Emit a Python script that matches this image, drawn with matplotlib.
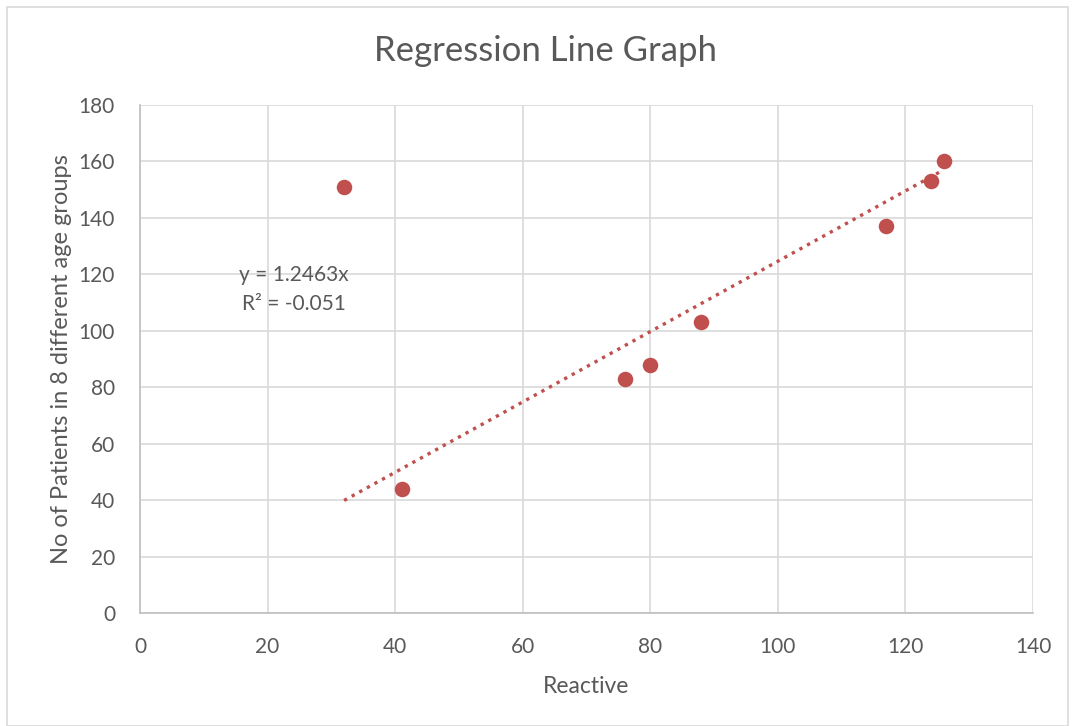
import numpy as np
import matplotlib.pyplot as plt
from matplotlib.patches import Rectangle

# dados
reativo = [32, 41, 76, 80, 88, 117, 124, 126]
pacientes = [151, 44, 83, 88, 103, 137, 153, 160]
inclinacao = 1.2463
x_ticks = [0, 20, 40, 60, 80, 100, 120, 140]
y_ticks = [0, 20, 40, 60, 80, 100, 120, 140, 160, 180]

cor = '#C0504D'
cinza_txt = '#595959'
plt.rcParams['font.family'] = ['Lato', 'DejaVu Sans']

fig = plt.figure(figsize=(10.75, 7.26), dpi=100)
ax = fig.add_axes([140 / 1075, 1 - 613 / 726, (1033 - 140) / 1075, (613 - 105) / 726])

# moldura do gráfico
fig.patches.append(Rectangle((7 / 1075, 0), 1 - 14 / 1075, 1 - 7 / 726, transform=fig.transFigure,
                             fill=False, edgecolor='#d9d9d9', linewidth=1.2))

ax.scatter(reativo, pacientes, s=125, color=cor, zorder=3, linewidths=0)

# linha de tendência
xs = np.array([min(reativo), max(reativo)])
ax.plot(xs, inclinacao * xs, color=cor, linestyle=(0, (1, 1.6)), linewidth=2.4, zorder=2)

ax.text(24.1, 119.8, 'y = 1.2463x', ha='center', va='center', fontsize=15, color=cinza_txt)
ax.text(24.1, 109.5, 'R² = -0.051', ha='center', va='center', fontsize=15, color=cinza_txt)

ax.set_xlim(0, 140)
ax.set_ylim(0, 180)
ax.set_xticks(x_ticks)
ax.set_yticks(y_ticks)
ax.grid(True, color='#d9d9d9', linewidth=1.2)
ax.set_axisbelow(True)
for lado in ['top', 'right']:
    ax.spines[lado].set_visible(False)
for lado in ['left', 'bottom']:
    ax.spines[lado].set_color('#bfbfbf')
    ax.spines[lado].set_linewidth(1.2)
ax.tick_params(length=0, labelsize=15, labelcolor=cinza_txt)
ax.tick_params(axis='x', pad=17)
ax.tick_params(axis='y', pad=18)

fig.text(545 / 1075, 1 - 51 / 726, 'Regression Line Graph', ha='center', va='center',
         fontsize=25, color=cinza_txt)
ax.set_xlabel('Reactive', fontsize=16.5, color=cinza_txt, labelpad=14)
ax.set_ylabel('No of Patients in 8 different age groups', fontsize=17, color=cinza_txt, labelpad=5)

fig.savefig('out.png', dpi=100)
